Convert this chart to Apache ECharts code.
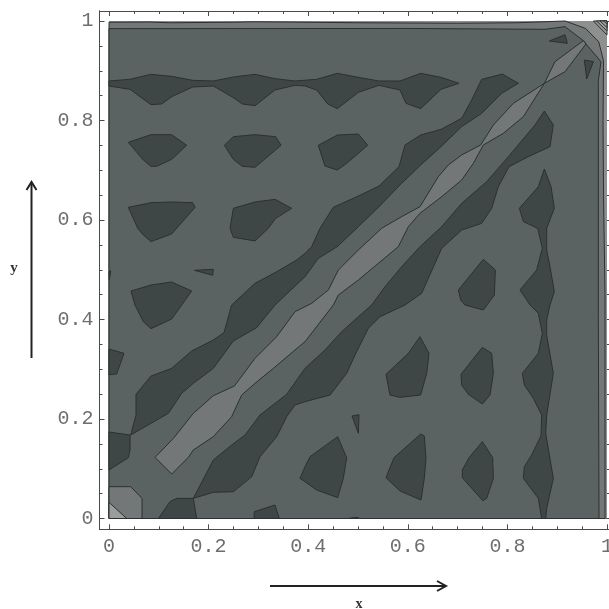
<!DOCTYPE html>
<html><head><meta charset="utf-8">
<style>html,body{margin:0;padding:0;background:#fff}#c{width:609px;height:609px}</style>
<script src="https://cdn.jsdelivr.net/npm/echarts@6/dist/echarts.min.js"></script>
</head><body><div id="c"></div>
<script>
const majorTicks=[0,0.2,0.4,0.6,0.8,1];
const minorTicks=[0.05,0.1,0.15,0.25,0.3,0.35,0.45,0.5,0.55,0.65,0.7,0.75,0.85,0.9,0.95];
const square=[[0,0],[1,0],[1,1],[0,1]];
const outerBand=[[0,0],[0.996,0],[0.996,0.45],[0.993,0.65],[0.992,0.8],[0.993,0.92],[0.9835,0.958],[0.957,0.985],[0.916,1],[0.82,0.9965],[0.70,0.9955],[0.5,0.9965],[0.29,0.9985],[0.25,0.9975],[0.12,0.9965],[0.08,0.998],[0,0.9975]];
const plateau=[[0,0],[0.984,0],[0.9826,0.4],[0.9826,0.88],[0.988,0.9183],[0.9578,0.9538],[0.9525,0.9605],[0.9157,0.9886],[0.8755,0.9833],[0.6,0.985],[0,0.9846]];
const corner1=[[0.9726,1],[1,1],[1,0.972]];
const corner2=[[0.979,1],[1,1],[1,0.98]];
const corner3=[[0.986,1],[1,1],[1,0.987]];
const corner4=[[0.993,1],[1,1],[1,0.994]];
const cornerLow=[[0,0],[0,0.064],[0.0435,0.064],[0.0663,0.0405],[0.0663,0]];
const cornerLower=[[0,0],[0,0.0325],[0.0355,0]];
const ridge=[[0.0924,0.1229],[0.1292,0.161],[0.1693,0.2114],[0.2095,0.2469],[0.2517,0.2663],[0.2932,0.3219],[0.3367,0.3655],[0.3735,0.4157],[0.407,0.4325],[0.4404,0.4593],[0.4605,0.4995],[0.5007,0.5397],[0.5475,0.5833],[0.5877,0.6067],[0.6245,0.6268],[0.6613,0.6871],[0.6814,0.7106],[0.7082,0.7307],[0.7463,0.7508],[0.7718,0.7909],[0.8119,0.8345],[0.8742,0.8747],[0.8956,0.9183],[0.9525,0.9605],[0.9578,0.9538],[0.9157,0.8982],[0.8742,0.8747],[0.832,0.8077],[0.7918,0.7742],[0.7517,0.7508],[0.7316,0.7139],[0.7082,0.6804],[0.668,0.6469],[0.6245,0.6134],[0.6011,0.5866],[0.581,0.5465],[0.5408,0.5129],[0.5007,0.4794],[0.4605,0.4492],[0.4505,0.4291],[0.3936,0.3554],[0.3735,0.3387],[0.33,0.3018],[0.2932,0.2717],[0.2664,0.2482],[0.2463,0.2047],[0.2095,0.1645],[0.1693,0.1377],[0.1593,0.1229],[0.1258,0.0894]];
const topBand=[[0,0.8794],[0.042,0.8828],[0.084,0.8928],[0.126,0.8888],[0.168,0.8807],[0.2095,0.8794],[0.2497,0.8874],[0.2932,0.8928],[0.3333,0.8841],[0.3735,0.8794],[0.417,0.8828],[0.4585,0.8948],[0.5007,0.8868],[0.542,0.8794],[0.5843,0.8794],[0.6258,0.8948],[0.6667,0.8868],[0.7028,0.8747],[0.6667,0.8627],[0.6258,0.8238],[0.5964,0.8345],[0.5843,0.8613],[0.542,0.8707],[0.5007,0.8566],[0.4585,0.8238],[0.4391,0.8332],[0.417,0.8613],[0.3936,0.8694],[0.3735,0.8707],[0.3333,0.8613],[0.2932,0.8298],[0.2677,0.8332],[0.2497,0.8459],[0.2095,0.8694],[0.168,0.8673],[0.1258,0.8479],[0.1058,0.8332],[0.0843,0.8318],[0.0422,0.8626],[0,0.8693]];
const blobB1=[[0.0388,0.7561],[0.0843,0.7715],[0.1258,0.7715],[0.156,0.7501],[0.1258,0.7219],[0.0957,0.7079],[0.0843,0.7079],[0.0689,0.7206]];
const blobB2=[[0.2316,0.7501],[0.2497,0.7675],[0.2932,0.7715],[0.3347,0.7675],[0.3454,0.7501],[0.2932,0.7059],[0.2677,0.7079],[0.2497,0.7219]];
const blobB3=[[0.4203,0.7501],[0.4585,0.7708],[0.5007,0.7728],[0.5194,0.7501],[0.4772,0.7139],[0.4585,0.7005],[0.4337,0.7085]];
const blobC1=[[0.0388,0.6255],[0.0843,0.6348],[0.1258,0.6362],[0.168,0.6348],[0.1727,0.6255],[0.1258,0.572],[0.0843,0.5566],[0.0689,0.57],[0.0576,0.5833]];
const blobC2=[[0.2497,0.6235],[0.2932,0.6362],[0.3333,0.6415],[0.3668,0.6235],[0.3347,0.6033],[0.3199,0.5833],[0.2932,0.5579],[0.2497,0.5652],[0.243,0.5833]];
const sliverD=[[0.1714,0.4989],[0.2095,0.5009],[0.2082,0.4888]];
const sliverEdge=[[0,0.496],[0.0033,0.498],[0.0007,0.479]];
const blobE=[[0.0442,0.4573],[0.0843,0.4693],[0.1258,0.4754],[0.166,0.4573],[0.1459,0.429],[0.1258,0.401],[0.0843,0.3816],[0.0689,0.3957],[0.0522,0.429]];
const blobF=[[0,0.3407],[0.0301,0.332],[0.0154,0.2905],[0,0.2891]];
const blobG=[[0,0.1739],[0.0422,0.1678],[0.0422,0.1377],[0.0388,0.1223],[0,0.0975]];
const blobH=[[0.0991,0],[0.1225,0.0339],[0.1359,0.0405],[0.1693,0.0405],[0.176,0]];
const diagUpper=[[0.0435,0.1678],[0.0542,0.208],[0.0542,0.2496],[0.0843,0.2864],[0.1258,0.3018],[0.166,0.3367],[0.2095,0.3588],[0.2309,0.3735],[0.2463,0.4291],[0.2932,0.4727],[0.3367,0.4961],[0.3768,0.5196],[0.3936,0.533],[0.407,0.5465],[0.4237,0.5833],[0.4505,0.6255],[0.5007,0.6482],[0.5422,0.6683],[0.5823,0.7072],[0.5944,0.7508],[0.6258,0.7709],[0.6667,0.7822],[0.7082,0.8044],[0.7282,0.8412],[0.7483,0.8827],[0.7898,0.8934],[0.822,0.8747],[0.7885,0.8546],[0.7483,0.8144],[0.7082,0.7877],[0.6667,0.7474],[0.6258,0.7106],[0.5843,0.6704],[0.5422,0.6268],[0.5007,0.5866],[0.4585,0.5465],[0.4203,0.5229],[0.3936,0.4861],[0.3333,0.4291],[0.2965,0.3836],[0.2497,0.3568],[0.2095,0.3018],[0.1693,0.2717],[0.1459,0.2516],[0.1191,0.2114]];
const diagLower=[[0.1693,0.0405],[0.2095,0.1176],[0.2463,0.1477],[0.2731,0.1678],[0.3032,0.208],[0.3568,0.2496],[0.3936,0.3018],[0.4337,0.3387],[0.4672,0.3755],[0.5007,0.4057],[0.5274,0.4291],[0.5542,0.466],[0.5877,0.5062],[0.6245,0.5464],[0.668,0.5866],[0.7082,0.6335],[0.7584,0.6771],[0.8019,0.7273],[0.8554,0.791],[0.8742,0.8191],[0.8922,0.791],[0.8855,0.7474],[0.842,0.7273],[0.8032,0.7072],[0.7818,0.667],[0.7684,0.6235],[0.7483,0.5933],[0.7082,0.5799],[0.668,0.543],[0.6278,0.4526],[0.5944,0.4291],[0.5442,0.4057],[0.5207,0.3823],[0.494,0.3286],[0.4772,0.2918],[0.4438,0.2482],[0.3936,0.2348],[0.3735,0.2281],[0.3568,0.2047],[0.3367,0.1645],[0.3032,0.1243],[0.2865,0.0841],[0.2497,0.0539],[0.2095,0.0526]];
const column=[[0.8742,0.7025],[0.8876,0.667],[0.8942,0.6235],[0.8789,0.5833],[0.8789,0.5397],[0.8855,0.5062],[0.8942,0.4559],[0.8855,0.4291],[0.8789,0.399],[0.8789,0.3689],[0.8922,0.2918],[0.8789,0.208],[0.8769,0.1711],[0.8922,0.0807],[0.8789,0.0204],[0.8769,0],[0.8688,0],[0.8621,0.0405],[0.832,0.0807],[0.834,0.1042],[0.8487,0.1277],[0.8675,0.1665],[0.8688,0.208],[0.8521,0.2415],[0.834,0.2683],[0.83,0.2918],[0.8621,0.332],[0.8701,0.3722],[0.8621,0.4124],[0.8454,0.4291],[0.8253,0.4593],[0.8588,0.4995],[0.8701,0.543],[0.8608,0.5833],[0.832,0.5967],[0.824,0.6235],[0.8621,0.667]];
const blobM=[[0.7015,0.4593],[0.7517,0.521],[0.7758,0.4995],[0.7738,0.4493],[0.7517,0.4191],[0.7149,0.4291],[0.7062,0.4392]];
const blobN=[[0.6245,0.3655],[0.6426,0.332],[0.6379,0.2918],[0.6258,0.2482],[0.5843,0.2435],[0.5643,0.2482],[0.5562,0.2898],[0.6011,0.332]];
const blobO=[[0.7497,0.3441],[0.7684,0.332],[0.7718,0.2918],[0.7651,0.2482],[0.7497,0.2301],[0.7216,0.2496],[0.7082,0.2683],[0.7068,0.2898]];
const sliverP=[[0.488,0.206],[0.502,0.2087],[0.5007,0.1712]];
const blobQ=[[0.4592,0.1645],[0.4772,0.1223],[0.4705,0.0807],[0.4592,0.0419],[0.417,0.0573],[0.3936,0.074],[0.3835,0.0807],[0.3936,0.1042],[0.4036,0.1243]];
const blobR=[[0.6258,0.1698],[0.6332,0.1658],[0.6365,0.1209],[0.6332,0.0807],[0.6265,0.0372],[0.5843,0.0553],[0.5562,0.0821],[0.5723,0.1223]];
const blobS=[[0.7497,0.1545],[0.7704,0.1223],[0.7718,0.0807],[0.7584,0.0405],[0.7504,0.0358],[0.7095,0.0821],[0.7095,0.0975],[0.7229,0.1223]];
const blobT=[[0.2912,0],[0.2918,0.0137],[0.3333,0.0271],[0.342,0]];
const sliverU=[[0.4806,0],[0.4907,0.0017],[0.5007,0.002],[0.5007,0]];
const blobV=[[0.8842,0.9598],[0.9157,0.9725],[0.9203,0.9551]];
const blobW=[[0.9545,0.9216],[0.9726,0.9183],[0.9592,0.8835]];

const C_HI='#8e9090',C_LIGHT='#737777',C_MAIN='#5a6362',C_DARK='#3f4746';
const layers=[
 [square,C_HI,false],[outerBand,C_LIGHT,true],
 [corner1,'#969898',true],[corner2,'#9e9f9f',true],[corner3,'#a6a7a7',true],[corner4,'#aeafaf',true],
 [plateau,C_MAIN,true],[cornerLow,C_LIGHT,true],[cornerLower,'#9b9d9d',true],[ridge,C_LIGHT,true]
];
[topBand,blobB1,blobB2,blobB3,blobC1,blobC2,sliverD,sliverEdge,blobE,blobF,blobG,blobH,diagUpper,diagLower,column,blobM,blobN,blobO,sliverP,blobQ,blobR,blobS,blobT,sliverU,blobV,blobW].forEach(p=>layers.push([p,C_DARK,true]));

const frame='#4a4a4a';
const XR=[-0.0191,1.004],YR=[-0.0217,1.0201];
const fmt=v=>(v===0||v===1)?String(v):v.toFixed(1);
const tickLabels=(m)=>({show:true,customValues:majorTicks,formatter:fmt,margin:m,fontFamily:'Liberation Mono',fontSize:20,color:'#6e6e6e',hideOverlap:false,showMinLabel:true,showMaxLabel:true});
function mkX(pos,ticks,len,labels){return {type:'value',position:pos,min:XR[0],max:XR[1],splitLine:{show:false},
 axisLine:{show:true,onZero:false,lineStyle:{color:frame,width:1}},
 axisTick:{show:true,inside:true,length:len,customValues:ticks,lineStyle:{color:frame,width:1}},
 axisLabel:labels?tickLabels(7):{show:false}};}
function mkY(pos,ticks,len,labels){return {type:'value',position:pos,min:YR[0],max:YR[1],splitLine:{show:false},
 axisLine:{show:true,onZero:false,lineStyle:{color:frame,width:1}},
 axisTick:{show:true,inside:true,length:len,customValues:ticks,lineStyle:{color:frame,width:1}},
 axisLabel:labels?tickLabels(6):{show:false}};}

const chart=echarts.init(document.getElementById('c'),null,{renderer:'canvas'});
chart.setOption({
 animation:false,backgroundColor:'#fff',
 grid:{left:99.5,top:11,width:509.5,height:518.3,containLabel:false,outerBoundsMode:'none'},
 xAxis:[mkX('bottom',majorTicks,5,true),mkX('bottom',minorTicks,3,false),mkX('top',majorTicks,5,false),mkX('top',minorTicks,3,false)],
 yAxis:[mkY('left',majorTicks,5,true),mkY('left',minorTicks,3,false),mkY('right',majorTicks,5,false),mkY('right',minorTicks,3,false)],
 series:[{type:'custom',coordinateSystem:'cartesian2d',xAxisIndex:0,yAxisIndex:0,clip:true,silent:true,
  data:layers.map((l,i)=>[i]),encode:{x:-1,y:-1},
  renderItem:(params,api)=>{const l=layers[params.dataIndex];
   return {type:'polygon',shape:{points:l[0].map(p=>api.coord(p))},
    style:{fill:l[1],stroke:l[2]?'#2b3030':null,lineWidth:l[2]?1:0,lineJoin:'round'}};}}],
 graphic:[
  {type:'line',shape:{x1:31.5,y1:358,x2:31.5,y2:183},style:{stroke:'#222',lineWidth:2}},
  {type:'polyline',shape:{points:[[26.5,190],[31.5,182],[36.5,190]]},style:{stroke:'#222',lineWidth:2,fill:null}},
  {type:'line',shape:{x1:270,y1:586,x2:445,y2:586},style:{stroke:'#222',lineWidth:2}},
  {type:'polyline',shape:{points:[[437,581],[446,586],[437,591]]},style:{stroke:'#222',lineWidth:2,fill:null}},
  {type:'text',style:{text:'y',x:14,y:268,align:'center',verticalAlign:'middle',font:'bold 15px "Liberation Serif"',fill:'#333'}},
  {type:'text',style:{text:'x',x:359,y:604,align:'center',verticalAlign:'middle',font:'bold 14px "Liberation Serif"',fill:'#333'}}
 ]
});
</script></body></html>
